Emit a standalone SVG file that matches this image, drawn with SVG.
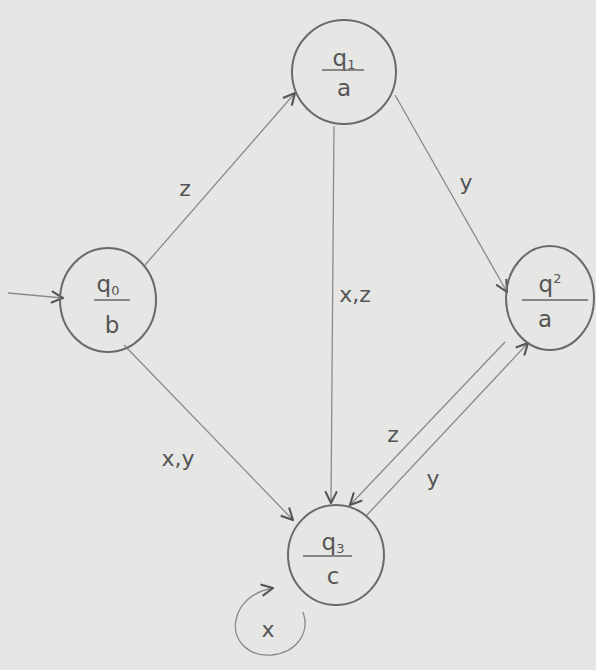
<svg xmlns="http://www.w3.org/2000/svg" width="596" height="670" viewBox="0 0 596 670">
<defs>
<style>
.node{fill:none;stroke:#6a6a6a;stroke-width:2}
.edge{fill:none;stroke:#8a8a8a;stroke-width:1.3}
.lbl{font-family:"DejaVu Sans","Liberation Sans",sans-serif;font-size:22px;fill:#555;text-anchor:middle}
.st{font-family:"DejaVu Sans","Liberation Sans",sans-serif;font-size:23px;fill:#555;text-anchor:middle}
.bar{stroke:#666;stroke-width:1.5}
</style>
<marker id="arr" viewBox="0 0 12 12" refX="11" refY="6" markerWidth="14" markerHeight="14" markerUnits="userSpaceOnUse" orient="auto">
<path d="M1,1 L11,6 L1,11" fill="none" stroke="#555" stroke-width="1.8"/>
</marker>
</defs>
<rect width="596" height="670" fill="#e6e6e4"/>
<g id="connectors">
<path class="edge" d="M8,293 L63,298" marker-end="url(#arr)"/>
<path class="edge" d="M145,265 L295,93" marker-end="url(#arr)"/>
<path class="edge" d="M395,95 L507,292" marker-end="url(#arr)"/>
<path class="edge" d="M334,126 L331,503" marker-end="url(#arr)"/>
<path class="edge" d="M124,345 L293,520" marker-end="url(#arr)"/>
<path class="edge" d="M505,342 L350,505" marker-end="url(#arr)"/>
<path class="edge" d="M366,516 L528,343" marker-end="url(#arr)"/>
<path class="edge" d="M303,612 C310,632 298,652 272,655 C248,657 232,640 236,620 C239,604 252,592 273,588" marker-end="url(#arr)"/>
<text class="lbl" x="185" y="196">z</text>
<text class="lbl" x="466" y="190">y</text>
<text class="lbl" x="355" y="302">x,z</text>
<text class="lbl" x="178" y="466">x,y</text>
<text class="lbl" x="393" y="442">z</text>
<text class="lbl" x="433" y="486">y</text>
<text class="lbl" x="268" y="637" font-size="26">x</text>
</g>
<g id="q1">
<ellipse class="node" cx="344" cy="72" rx="52" ry="52"/>
<text class="st" x="344" y="66">q<tspan font-size="13" dy="3">1</tspan></text>
<line class="bar" x1="322" y1="70" x2="364" y2="70"/>
<text class="st" x="344" y="96">a</text>
</g>
<g id="q0">
<ellipse class="node" cx="108" cy="300" rx="48" ry="52"/>
<text class="st" x="108" y="292">q<tspan font-size="13" dy="3">0</tspan></text>
<line class="bar" x1="94" y1="300" x2="130" y2="300"/>
<text class="st" x="112" y="333">b</text>
</g>
<g id="q2">
<ellipse class="node" cx="550" cy="298" rx="44" ry="52"/>
<text class="st" x="550" y="292">q<tspan font-size="13" dy="-9">2</tspan></text>
<line class="bar" x1="522" y1="300" x2="588" y2="300"/>
<text class="st" x="545" y="327">a</text>
</g>
<g id="q3">
<ellipse class="node" cx="336" cy="555" rx="48" ry="50"/>
<text class="st" x="333" y="550">q<tspan font-size="13" dy="3">3</tspan></text>
<line class="bar" x1="303" y1="556" x2="352" y2="556"/>
<text class="st" x="333" y="584">c</text>
</g>
</svg>
